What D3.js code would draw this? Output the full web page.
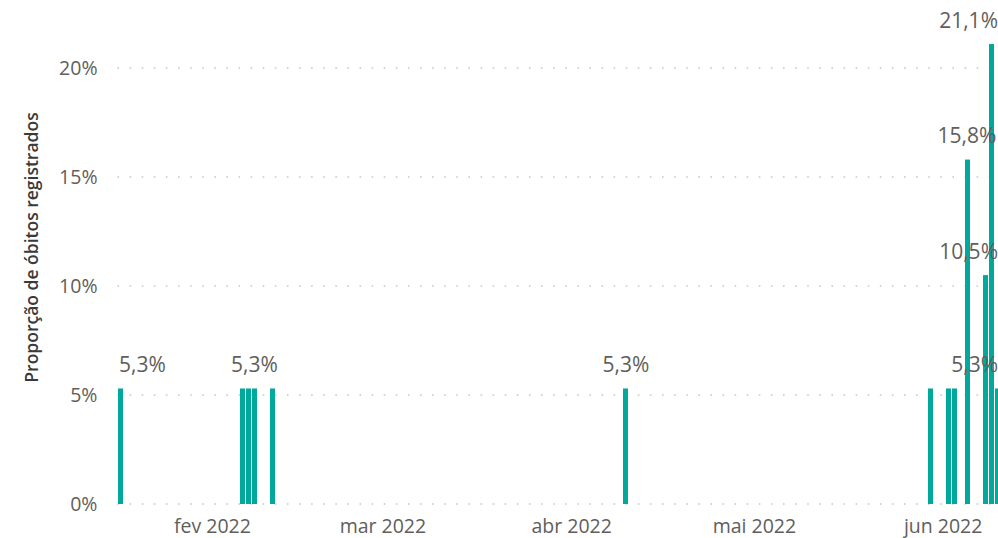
<!DOCTYPE html>
<html>
<head>
<meta charset="utf-8">
<script src="https://cdn.jsdelivr.net/npm/d3@7"></script>
<style>
  body { margin: 0; background: #fff; }
  svg { display: block; font-family: "Segoe UI", "Open Sans", "Noto Sans", sans-serif; }
</style>
</head>
<body>
<svg id="chart" width="998" height="538"></svg>
<script>

// data (one bar per day with deaths registered)
let dates = ["2022-01-17", "2022-02-06", "2022-02-07", "2022-02-08", "2022-02-11",
             "2022-04-10", "2022-05-30", "2022-06-02", "2022-06-03", "2022-06-05",
             "2022-06-08", "2022-06-09", "2022-06-10"];
let proportions = [0.053, 0.053, 0.053, 0.053, 0.053,
                   0.053, 0.053, 0.053, 0.053, 0.158,
                   0.105, 0.211, 0.053];
// which bars carry a data label in the original
let showLabel = [true, false, false, true, false,
                 true, false, false, false, true,
                 true, true, true];

let yTicks = [0, 0.05, 0.10, 0.15, 0.20];
let monthTicks = ["2022-02-01", "2022-03-01", "2022-04-01", "2022-05-01", "2022-06-01"];
let monthLabels = ["fev 2022", "mar 2022", "abr 2022", "mai 2022", "jun 2022"];

let yTitle = "Proporção de óbitos registrados";

// chart layout
let width = 998, height = 538;
let plotLeft = 117.5, plotRight = 1000.5;
let plotTop = 68, plotBottom = 504;
let barWidth = 5;
let labelRightLimit = 982;

let barColor = "#01A99C";
let textColor = "#605E5C";
let gridColor = "#C8C6C4";

let parseDay = d3.utcParse("%Y-%m-%d");
let br = d3.formatLocale({decimal: ",", thousands: ".", grouping: [3], currency: ["R$", ""]});
let fmtLabel = br.format(".1%");
let fmtTick = br.format(".0%");

let svg = d3.select("#chart");

let x = d3.scaleUtc()
    .domain([Date.UTC(2022, 0, 16, 12), Date.UTC(2022, 5, 10, 12)])
    .range([plotLeft, plotRight]);

let y = d3.scaleLinear()
    .domain([0, 0.20])
    .range([plotBottom, plotTop]);

let data = dates.map((d, i) => ({date: parseDay(d), value: proportions[i], label: showLabel[i]}));

// dotted gridlines
svg.append("g")
    .attr("class", "grid")
  .selectAll("line")
  .data(yTicks)
  .enter().append("line")
    .attr("x1", plotLeft)
    .attr("x2", width)
    .attr("y1", d => y(d))
    .attr("y2", d => y(d))
    .attr("stroke", gridColor)
    .attr("stroke-width", 1.6)
    .attr("stroke-dasharray", "1.6,10.5");

// y axis
let yAxis = svg.append("g")
    .attr("class", "axis axis-y")
    .attr("transform", `translate(${plotLeft},0)`)
    .call(d3.axisLeft(y).tickValues(yTicks).tickFormat(fmtTick).tickSize(0).tickPadding(20))
    .attr("font-family", null);
yAxis.select(".domain").remove();
yAxis.selectAll(".tick text")
    .attr("fill", textColor)
    .style("font-size", "19.5px");

// x axis, month ticks
let xAxis = svg.append("g")
    .attr("class", "axis axis-x")
    .attr("transform", `translate(0,${plotBottom})`)
    .call(d3.axisBottom(x)
      .tickValues(monthTicks.map(parseDay))
      .tickFormat((d, i) => monthLabels[i])
      .tickSize(0).tickPadding(15))
    .attr("font-family", null);
xAxis.select(".domain").remove();
xAxis.selectAll(".tick text")
    .attr("fill", textColor)
    .style("font-size", "19.5px")
    .each(function(d) {
      // keep the last label inside the plot like Power BI does
      let w = this.getComputedTextLength();
      let cx = x(d);
      if (cx + w / 2 > labelRightLimit) {
        d3.select(this).attr("x", labelRightLimit - w / 2 - cx);
      }
    });

// y axis title
svg.append("text")
    .attr("transform", `translate(38,${(110 + 385) / 2}) rotate(-90)`)
    .attr("text-anchor", "middle")
    .attr("fill", "#3B3A39")
    .style("font-size", "17.5px")
    .style("font-weight", "600")
    .text(yTitle);

// bars
svg.append("g")
  .selectAll(".bar")
  .data(data)
  .enter().append("rect")
    .attr("class", "bar")
    .attr("x", d => Math.round(x(d.date) - barWidth / 2))
    .attr("y", d => y(d.value))
    .attr("width", barWidth)
    .attr("height", d => plotBottom - y(d.value))
    .attr("fill", barColor);

// data labels
svg.append("g")
  .selectAll(".label")
  .data(data.filter(d => d.label))
  .enter().append("text")
    .attr("class", "label")
    .attr("text-anchor", "middle")
    .attr("fill", textColor)
    .style("font-size", "21px")
    .attr("y", d => y(d.value) - 16.5)
    .text(d => fmtLabel(d.value))
    .each(function(d) {
      let w = this.getComputedTextLength();
      let cx = x(d.date);
      cx = Math.max(plotLeft + 1.5 + w / 2, Math.min(width - w / 2, cx));
      d3.select(this).attr("x", cx);
    });

</script>
</body>
</html>
